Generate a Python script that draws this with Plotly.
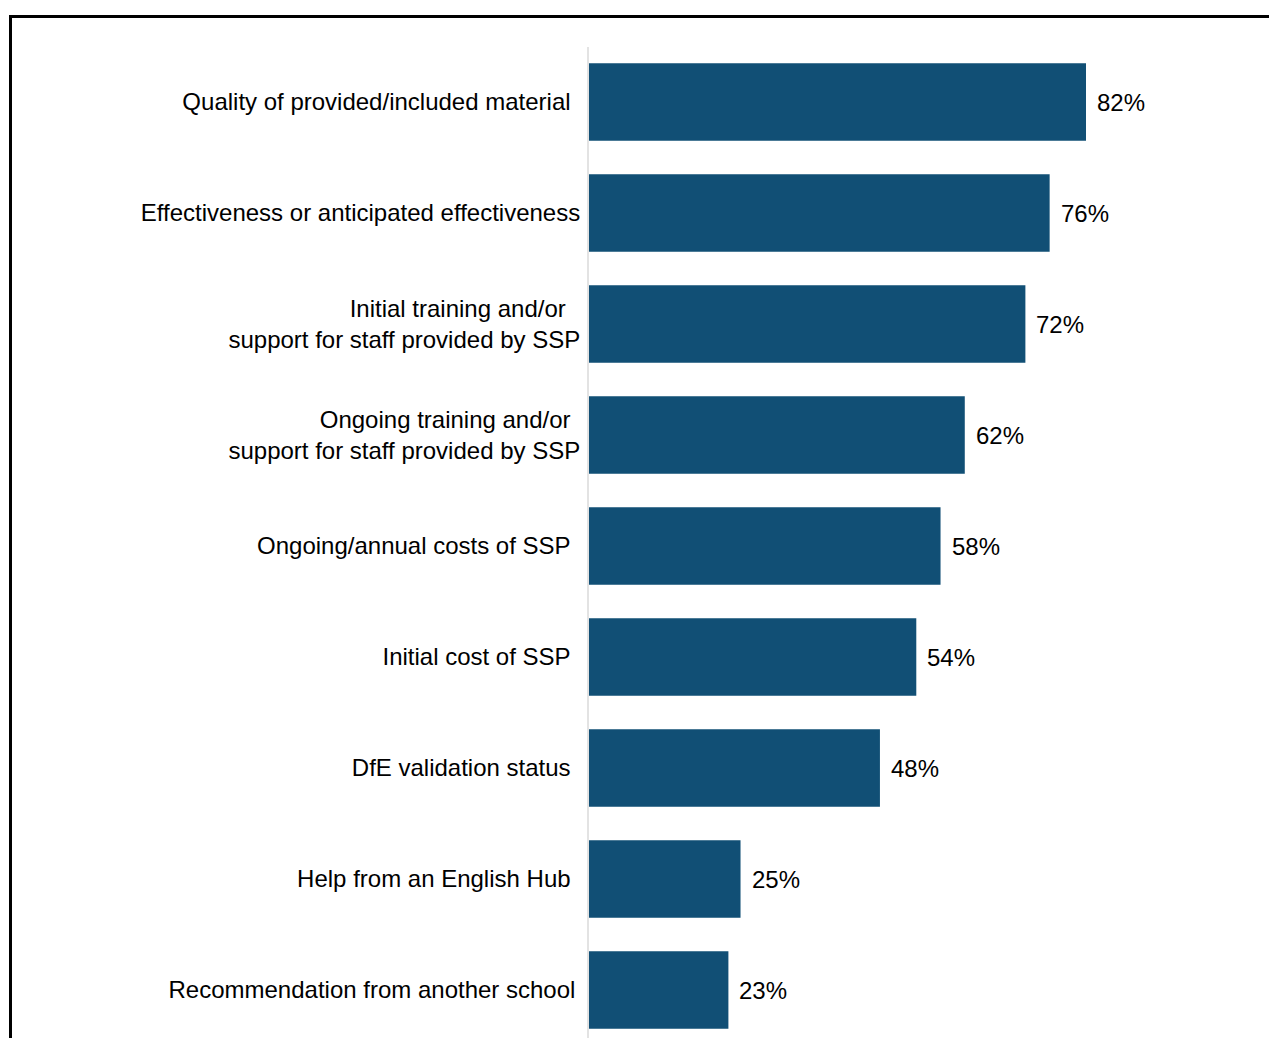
import plotly.graph_objects as go

# Share of respondents citing each factor (top to bottom)
categories = [
    "Quality of provided/included material",
    "Effectiveness or anticipated effectiveness",
    "Initial training and/or<br>support for staff provided by SSP",
    "Ongoing training and/or<br>support for staff provided by SSP",
    "Ongoing/annual costs of SSP",
    "Initial cost of SSP",
    "DfE validation status",
    "Help from an English Hub",
    "Recommendation from another school",
]
values = [82, 76, 72, 62, 58, 54, 48, 25, 23]
value_labels = [f"{v}%" for v in values]

# trailing thin spaces after each label line (keeps the ragged right edge)
label_pads = [
    [2],
    [0],
    [3, 0],
    [2, 0],
    [2],
    [2],
    [2],
    [2],
    [1],
]

THIN = "\u2009"


def padded(label, pads):
    lines = label.split("<br>")
    return "<br>".join(line + THIN * p for line, p in zip(lines, pads))


tick_text = [padded(c, p) for c, p in zip(categories, label_pads)]

W, H = 1269, 1038
BAR_COLOR = "#114F75"
FONT = "Liberation Sans, Arial, sans-serif"

# pixel geometry of the plotting region
x0_px = 589
top_px = 46.5
px_per_unit = 6.061
band_px = 111.0

x_max = (W - x0_px) / px_per_unit
y_bottom = -0.5 + (H - top_px) / band_px

fig = go.Figure()
fig.add_trace(go.Bar(
    x=values,
    y=categories,
    orientation="h",
    width=0.7,
    marker=dict(color=BAR_COLOR, line=dict(width=0)),
    hoverinfo="skip",
))

for cat, v, lab in zip(categories, values, value_labels):
    fig.add_annotation(
        x=v, y=cat, text=lab, showarrow=False,
        xanchor="left", yanchor="middle", xshift=9,
        font=dict(family=FONT, size=24, color="#000000"),
    )

# frame running along the top and left edges
fig.add_shape(type="line", xref="paper", yref="paper",
              x0=10.5 / W, x1=1.01, y0=1 - 16.5 / H, y1=1 - 16.5 / H,
              line=dict(color="#000000", width=3))
fig.add_shape(type="line", xref="paper", yref="paper",
              x0=10.5 / W, x1=10.5 / W, y0=1 - 15 / H, y1=-0.01,
              line=dict(color="#000000", width=3))

fig.update_layout(
    width=W, height=H,
    margin=dict(l=0, r=0, t=0, b=0),
    paper_bgcolor="#ffffff",
    plot_bgcolor="#ffffff",
    showlegend=False,
    bargap=0.3,
    font=dict(family=FONT, size=24, color="#000000"),
    xaxis=dict(
        domain=[x0_px / W, 1],
        range=[0, x_max],
        showgrid=False, zeroline=False, showline=False,
        showticklabels=False, ticks="",
    ),
    yaxis=dict(
        domain=[0, (H - top_px) / H],
        type="category",
        categoryorder="array",
        categoryarray=categories,
        tickmode="array",
        tickvals=categories,
        ticktext=tick_text,
        range=[y_bottom, -0.5],
        showgrid=False, zeroline=False,
        showline=True, linecolor="#e3e3e3", linewidth=2,
        ticks="", ticklabelstandoff=2,
        tickfont=dict(family=FONT, size=24, color="#000000"),
        automargin=False,
    ),
)

fig.write_html("out.html")
